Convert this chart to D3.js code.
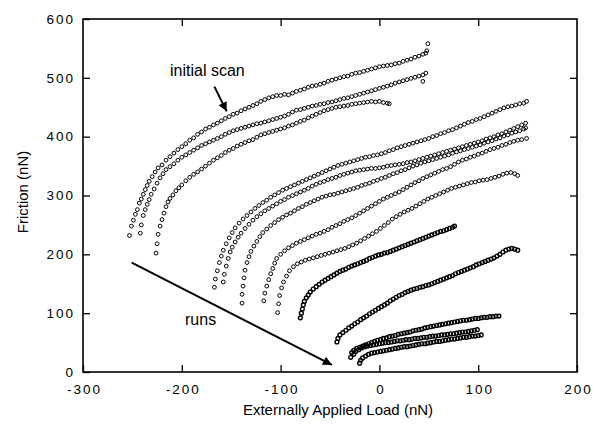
<!DOCTYPE html>
<html>
<head>
<meta charset="utf-8">
<script src="https://cdn.jsdelivr.net/npm/d3@7"></script>
<style>
  body { margin: 0; background: #fff; }
  svg { display: block; font-family: "Liberation Sans", Arial, Helvetica, sans-serif; }
  .tick text { font-size: 13.5px; letter-spacing: 2px; fill: #000; }
  .tick line { stroke: #000; stroke-width: 1.3; }
  .label { font-size: 15px; fill: #000; }
  .note { font-size: 16px; fill: #000; }
  .pt { fill: none; stroke: #000; stroke-width: 1; }
  .dense .pt { stroke-width: 1.4; }
</style>
</head>
<body>
<svg id="chart" width="597" height="425"></svg>
<script>
const width = 597, height = 425;
let padding = {top: 19, right: 20, bottom: 53, left: 83};

// tick labels
const xTicks = [-300, -200, -100, 0, 100, 200];
const yTicks = [0, 100, 200, 300, 400, 500, 600];

// series, [load nN, friction nN]
// top three: initial scan and the two after it
const scanA = [[-253,232],[-251,248],[-249,258],[-247,268],[-245,276],[-243,287],[-241,294],[-239,302],[-237,310],[-235,317],[-233,324],[-230,332],[-227,340],[-224,347],[-220,352],[-216,360],[-212,366],[-208,372],[-204,378],[-200,383],[-196,388],[-192,394],[-188,398],[-184,404],[-180,408],[-176,413],[-172,416],[-168,420],[-164,423],[-160,427],[-156,431],[-152,434],[-148,438],[-144,440],[-140,444],[-136,447],[-132,450],[-128,453],[-124,456],[-120,460],[-116,463],[-112,466],[-108,468],[-104,470],[-100,470],[-96,472],[-92,471],[-88,474],[-84,477],[-80,479],[-76,481],[-72,484],[-68,486],[-64,487],[-60,489],[-56,491],[-52,494],[-48,496],[-44,498],[-40,500],[-36,502],[-32,503],[-28,506],[-24,508],[-20,509],[-16,511],[-12,513],[-8,515],[-4,517],[0,519],[4,520],[8,521],[12,522],[16,524],[20,525],[24,528],[28,530],[32,532],[36,535],[40,537],[44,540],[47,542],[48,546],[49,558]];
const scanB = [[-242,236],[-241,250],[-239,266],[-237,276],[-235,285],[-233,293],[-231,302],[-228,311],[-225,321],[-222,330],[-219,337],[-216,344],[-212,349],[-208,354],[-204,360],[-200,365],[-196,369],[-192,373],[-188,377],[-184,381],[-180,385],[-176,388],[-172,391],[-168,394],[-164,397],[-160,400],[-156,404],[-152,407],[-148,410],[-144,412],[-140,414],[-136,416],[-132,418],[-128,420],[-124,422],[-120,423],[-116,425],[-112,427],[-108,429],[-104,431],[-100,433],[-96,435],[-92,438],[-88,442],[-84,445],[-80,446],[-76,448],[-72,450],[-68,452],[-64,453],[-60,455],[-56,456],[-52,458],[-48,459],[-44,461],[-40,463],[-36,465],[-32,466],[-28,468],[-24,470],[-20,472],[-16,474],[-12,476],[-8,478],[-4,480],[0,482],[4,484],[8,486],[12,488],[16,491],[20,493],[24,495],[28,497],[32,499],[36,501],[40,503],[44,505],[47,508],[44,494]];
const scanC = [[-226,202],[-225,218],[-224,234],[-222,248],[-220,259],[-218,270],[-216,281],[-214,289],[-212,295],[-209,301],[-206,308],[-203,313],[-200,318],[-196,325],[-192,331],[-188,336],[-184,340],[-180,345],[-176,350],[-172,355],[-168,360],[-164,364],[-160,368],[-156,373],[-152,377],[-148,380],[-144,384],[-140,387],[-136,390],[-132,393],[-128,395],[-124,399],[-120,403],[-116,405],[-112,407],[-108,409],[-104,411],[-100,413],[-96,415],[-92,418],[-88,420],[-84,423],[-80,426],[-76,428],[-72,432],[-68,435],[-64,438],[-60,441],[-56,444],[-52,446],[-48,448],[-44,450],[-40,451],[-36,452],[-32,453],[-28,455],[-24,456],[-20,457],[-16,458],[-12,459],[-8,460],[-4,459],[0,460],[4,458],[8,457],[10,456]];

// middle group of open circles
const run1 = [[-167,144],[-166,158],[-164,172],[-162,186],[-160,197],[-158,207],[-155,218],[-152,228],[-149,237],[-146,245],[-142,253],[-138,260],[-134,266],[-130,272],[-126,278],[-122,283],[-118,288],[-114,292],[-110,297],[-106,301],[-102,305],[-98,309],[-94,312],[-90,315],[-86,318],[-82,321],[-78,324],[-74,327],[-70,330],[-66,333],[-62,336],[-58,339],[-54,342],[-50,345],[-46,348],[-42,351],[-38,353],[-34,355],[-30,357],[-26,359],[-22,361],[-18,363],[-14,365],[-10,366],[-6,368],[-2,369],[2,371],[6,373],[10,376],[14,378],[18,381],[22,383],[26,385],[30,387],[34,389],[38,391],[42,393],[46,395],[50,397],[54,400],[58,402],[62,405],[66,407],[70,410],[74,412],[78,415],[82,418],[86,421],[90,424],[94,426],[98,429],[102,431],[106,434],[110,437],[114,440],[118,443],[122,446],[126,449],[130,451],[134,452],[138,454],[142,456],[146,457],[149,460]];
const run2 = [[-158,153],[-157,166],[-155,180],[-153,193],[-151,204],[-149,212],[-146,221],[-143,229],[-140,236],[-136,244],[-132,251],[-128,258],[-124,264],[-120,269],[-116,274],[-112,278],[-108,282],[-104,286],[-100,290],[-96,293],[-92,297],[-88,300],[-84,303],[-80,306],[-76,309],[-72,312],[-68,316],[-64,319],[-60,322],[-56,324],[-52,327],[-48,329],[-44,331],[-40,334],[-36,336],[-32,338],[-28,340],[-24,342],[-20,343],[-16,344],[-12,345],[-8,346],[-4,346],[0,347],[4,348],[8,350],[12,351],[16,352],[20,353],[24,354],[28,356],[32,357],[36,359],[40,361],[44,363],[48,365],[52,367],[56,369],[60,371],[64,373],[68,375],[72,377],[76,379],[80,381],[84,383],[88,385],[92,387],[96,389],[100,391],[104,393],[108,396],[112,398],[116,400],[120,403],[124,405],[128,408],[132,411],[136,414],[140,417],[144,420],[148,423]];
const run3 = [[-139,117],[-139,132],[-138,146],[-137,160],[-136,173],[-134,186],[-132,196],[-130,205],[-127,214],[-124,222],[-121,230],[-118,237],[-114,243],[-110,249],[-106,254],[-102,259],[-98,263],[-94,267],[-90,270],[-86,274],[-82,278],[-78,281],[-74,285],[-70,288],[-66,291],[-62,294],[-58,297],[-54,299],[-50,301],[-46,302],[-42,304],[-38,306],[-34,308],[-30,310],[-26,312],[-22,314],[-18,317],[-14,319],[-10,321],[-6,324],[-2,326],[2,329],[6,331],[10,334],[14,337],[18,339],[22,342],[26,344],[30,347],[34,350],[38,352],[42,355],[46,357],[50,359],[54,361],[58,363],[62,365],[66,367],[70,369],[74,372],[78,374],[82,376],[86,378],[90,380],[94,382],[98,384],[102,386],[106,389],[110,391],[114,393],[118,396],[122,398],[126,401],[130,403],[134,406],[138,408],[142,410],[146,413],[148,415]];
const run4 = [[-117,121],[-116,134],[-114,146],[-112,157],[-110,167],[-108,176],[-106,185],[-104,193],[-100,200],[-96,206],[-92,211],[-88,215],[-84,219],[-80,222],[-76,225],[-72,228],[-68,231],[-64,234],[-60,236],[-56,239],[-52,242],[-48,246],[-44,249],[-40,252],[-36,256],[-32,259],[-28,262],[-24,266],[-20,270],[-16,274],[-12,278],[-8,282],[-4,286],[0,290],[4,294],[8,297],[12,300],[16,303],[20,306],[24,310],[28,314],[32,318],[36,322],[40,325],[44,329],[48,332],[52,335],[56,338],[60,341],[64,344],[68,346],[72,349],[76,353],[80,357],[84,360],[88,362],[92,365],[96,367],[100,370],[104,372],[108,375],[112,378],[116,380],[120,382],[124,385],[128,387],[132,390],[136,392],[140,394],[144,395],[149,397]];
const run5 = [[-103,101],[-102,116],[-101,130],[-99,143],[-97,153],[-94,163],[-91,172],[-87,179],[-83,184],[-79,187],[-75,190],[-71,192],[-67,194],[-63,196],[-59,198],[-55,200],[-51,202],[-47,204],[-43,206],[-39,208],[-35,210],[-31,213],[-27,216],[-23,219],[-19,223],[-15,227],[-11,231],[-7,235],[-3,239],[1,244],[5,249],[9,254],[13,260],[17,264],[21,268],[25,272],[29,275],[33,278],[37,282],[41,286],[45,290],[49,294],[53,297],[57,300],[61,303],[65,306],[69,309],[73,312],[77,314],[81,316],[85,318],[89,320],[93,322],[97,323],[101,325],[105,326],[109,327],[113,329],[117,331],[121,333],[125,336],[129,338],[133,339],[137,337],[140,334]];

// later runs, densely sampled
const run6 = [[-80,92],[-79,100],[-78,107],[-77,114],[-76,120],[-74,126],[-72,131],[-70,136],[-67,141],[-64,145],[-61,149],[-58,153],[-55,156],[-52,159],[-49,162],[-46,165],[-43,168],[-40,171],[-37,173],[-34,175],[-31,178],[-28,180],[-25,182],[-22,184],[-19,186],[-16,188],[-13,190],[-10,193],[-7,195],[-4,197],[-1,199],[2,200],[5,202],[8,203],[11,205],[14,207],[17,209],[20,211],[23,213],[26,215],[29,217],[32,219],[35,221],[38,223],[41,225],[44,227],[47,229],[50,231],[53,233],[56,235],[59,237],[62,239],[65,240],[68,242],[71,244],[74,246],[76,248]];
const run7 = [[-43,51],[-42,57],[-40,63],[-37,67],[-34,71],[-31,75],[-28,78],[-25,82],[-22,85],[-19,89],[-16,92],[-13,95],[-10,99],[-7,102],[-4,105],[-1,108],[2,111],[5,114],[8,117],[11,121],[14,124],[17,127],[20,130],[23,132],[26,135],[29,137],[32,139],[35,141],[38,142],[41,144],[44,145],[47,147],[50,148],[53,150],[56,152],[59,154],[62,156],[65,158],[68,160],[71,162],[74,164],[77,167],[80,169],[83,171],[86,173],[89,175],[92,177],[95,179],[98,182],[101,184],[104,186],[107,188],[110,190],[113,192],[116,194],[119,197],[122,200],[125,204],[128,207],[131,209],[134,210],[137,209],[140,207]];
const run8 = [[-29,25],[-28,33],[-26,37],[-23,40],[-20,42],[-17,44],[-14,46],[-11,48],[-8,50],[-5,52],[-2,54],[1,55],[4,57],[7,58],[10,60],[13,61],[16,62],[19,64],[22,65],[25,66],[28,67],[31,68],[34,70],[37,71],[40,72],[43,73],[46,75],[49,76],[52,77],[55,78],[58,79],[61,80],[64,81],[67,82],[70,83],[73,84],[76,85],[79,86],[82,87],[85,88],[88,88],[91,89],[94,90],[97,91],[100,91],[103,92],[106,93],[109,93],[112,94],[115,94],[118,95],[121,95]];
const run9 = [[-26,30],[-24,35],[-21,38],[-18,41],[-15,43],[-12,44],[-9,45],[-6,46],[-3,47],[0,48],[3,49],[6,50],[9,50],[12,51],[15,52],[18,53],[21,53],[24,54],[27,55],[30,55],[33,56],[36,57],[39,57],[42,58],[45,59],[48,59],[51,60],[54,61],[57,61],[60,62],[63,63],[66,63],[69,64],[72,65],[75,65],[78,66],[81,67],[84,68],[87,68],[90,69],[93,70],[96,71],[99,72]];
const run10 = [[-20,15],[-19,20],[-17,24],[-14,27],[-11,30],[-8,32],[-5,33],[-2,34],[1,35],[4,36],[7,37],[10,38],[13,39],[16,40],[19,41],[22,42],[25,43],[28,43],[31,44],[34,45],[37,46],[40,47],[43,48],[46,48],[49,49],[52,50],[55,51],[58,52],[61,52],[64,53],[67,54],[70,55],[73,56],[76,56],[79,57],[82,58],[85,59],[88,59],[91,60],[94,61],[97,61],[100,62],[103,63]];

const openSeries = [scanA, scanB, scanC, run1, run2, run3, run4, run5];
const denseSeries = [run6, run7, run8, run9, run10];

// annotation arrows, data coords [from, to]
const scanArrow = [[-167, 485], [-154.6, 443]];
const runsArrow = [[-250.7, 186], [-48, 12]];

const svg = d3.select("#chart");

let x = d3.scaleLinear()
  .domain([-300, 200])
  .range([padding.left, width - padding.right]);

let y = d3.scaleLinear()
  .domain([0, 600])
  .range([height - padding.bottom, padding.top]);

// plain hyphen for negatives, like the original
const fmt = d => String(d);

// bottom axis with labels, ticks pointing in
svg.append("g")
  .attr("class", "axis x")
  .attr("transform", "translate(0," + (height - padding.bottom) + ")")
  .call(d3.axisBottom(x).tickValues(xTicks).tickFormat(fmt).tickSizeInner(-7).tickSizeOuter(0).tickPadding(12))
  .call(g => g.select(".domain").remove())
  .call(g => g.selectAll("text").attr("dx", "1px"));

// left axis with labels
svg.append("g")
  .attr("class", "axis y")
  .attr("transform", "translate(" + padding.left + ",0)")
  .call(d3.axisLeft(y).tickValues(yTicks).tickFormat(fmt).tickSizeInner(-7).tickSizeOuter(0).tickPadding(8))
  .call(g => g.select(".domain").remove());

// top and right: ticks only
svg.append("g")
  .attr("transform", "translate(0," + padding.top + ")")
  .call(d3.axisTop(x).tickValues(xTicks.slice(1, -1)).tickSizeInner(-7).tickSizeOuter(0).tickFormat(""))
  .call(g => g.select(".domain").remove());

svg.append("g")
  .attr("transform", "translate(" + (width - padding.right) + ",0)")
  .call(d3.axisRight(y).tickValues(yTicks.slice(1, -1)).tickSizeInner(-7).tickSizeOuter(0).tickFormat(""))
  .call(g => g.select(".domain").remove());

// frame
svg.append("rect")
  .attr("x", padding.left)
  .attr("y", padding.top)
  .attr("width", width - padding.left - padding.right)
  .attr("height", height - padding.top - padding.bottom)
  .attr("fill", "none")
  .attr("stroke", "#000")
  .attr("stroke-width", 1.6);

// the points
function drawPoints(list, cls) {
  svg.append("g")
    .attr("class", cls)
    .selectAll("g")
    .data(list)
    .join("g")
    .selectAll("circle")
    .data(d => d)
    .join("circle")
      .attr("class", "pt")
      .attr("cx", d => x(d[0]))
      .attr("cy", d => y(d[1]))
      .attr("r", 1.9);
}
drawPoints(openSeries, "open");
drawPoints(denseSeries, "dense");

// arrows
svg.append("defs").append("marker")
  .attr("id", "head")
  .attr("viewBox", "0 0 10 10")
  .attr("refX", 10).attr("refY", 5)
  .attr("markerWidth", 6).attr("markerHeight", 4.5)
  .attr("markerUnits", "strokeWidth")
  .attr("orient", "auto")
  .append("path")
    .attr("d", "M0,0L10,5L0,10z")
    .attr("fill", "#000");

[scanArrow, runsArrow].forEach(function(a) {
  svg.append("line")
    .attr("x1", x(a[0][0])).attr("y1", y(a[0][1]))
    .attr("x2", x(a[1][0])).attr("y2", y(a[1][1]))
    .attr("stroke", "#000")
    .attr("stroke-width", 2)
    .attr("marker-end", "url(#head)");
});

// ------------ annotations and axis titles ----------------- //

svg.append("text")
  .attr("class", "note")
  .attr("x", 170)
  .attr("y", 76)
  .text("initial scan");

svg.append("text")
  .attr("class", "note")
  .attr("x", 185)
  .attr("y", 325)
  .text("runs");

svg.append("text")
  .attr("class", "label")
  .attr("x", 338)
  .attr("y", 414.5)
  .attr("text-anchor", "middle")
  .text("Externally Applied Load (nN)");

svg.append("text")
  .attr("class", "label")
  .attr("transform", "rotate(-90)")
  .attr("x", -192)
  .attr("y", 28)
  .attr("text-anchor", "middle")
  .text("Friction (nN)");
</script>
</body>
</html>
